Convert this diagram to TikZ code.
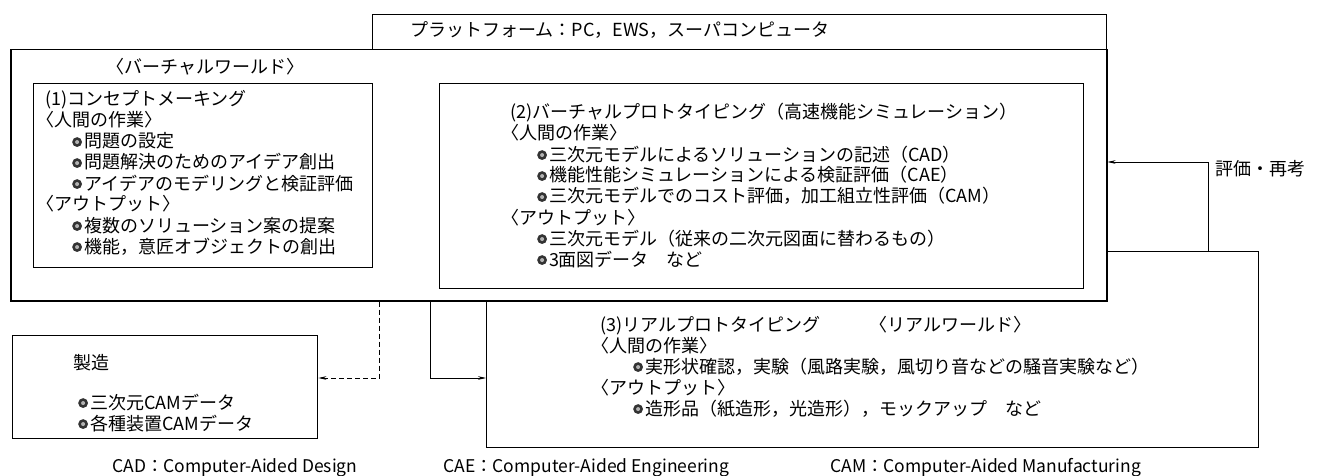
\documentclass[tikz,border=0pt]{standalone}
\usepackage{fontspec}
\setmainfont{Noto Sans CJK JP}
\usetikzlibrary{arrows.meta,calc}
\tikzset{
  frame/.style={draw, line width=1.2pt, fill=white, inner sep=0pt, anchor=north west},
  txt/.style={anchor=base west, inner sep=0pt, font=\fontsize{18}{21}\selectfont},
  foot/.style={anchor=base west, inner sep=0pt, font=\fontsize{17.5}{21}\selectfont},
  conn/.style={line width=0.7pt, -{Stealth[length=8pt,width=3.6pt]}},
}
\newcommand\bul{\tikz[baseline=-0.33em]{\fill[black!80](0,0) circle (4.9pt);\fill[black!30](0,0) circle (2pt);}\hspace{2pt}}
\newcommand\lb{\kern-0.5em 〈}
\newcommand\ind{\hspace*{27pt}}
\newcommand\indr{\hspace*{33pt}}
\begin{document}
\begin{tikzpicture}[x=1pt,y=-1pt]
\useasboundingbox (0,0) rectangle (1318,476);
\fill[white] (0,0) rectangle (1318,476);
% real world box (behind the virtual world box)
\node[frame, line width=1.4pt, minimum width=772pt, minimum height=196pt] (real) at (486,251) {};
% virtual world and platform
\node[frame, minimum width=734pt, minimum height=35pt] (plat) at (372,14) {};
\node[frame, line width=1.5pt, minimum width=1096pt, minimum height=251pt] (virt) at (10,49) {};
\node[txt] (platt) at (410,37) {プラットフォーム：PC，EWS，スーパコンピュータ};
\node[txt] (vwlabel) at (115,74) {\lb バーチャルワールド〉};
% box 1
\node[frame, minimum width=339pt, minimum height=184pt] (b1) at (33,83) {};
\foreach \t [count=\i from 0] in {
  {(1)コンセプトメーキング},
  {\lb 人間の作業〉},
  {\ind\bul 問題の設定},
  {\ind\bul 問題解決のためのアイデア創出},
  {\ind\bul アイデアのモデリングと検証評価},
  {\lb アウトプット〉},
  {\ind\bul 複数のソリューション案の提案},
  {\ind\bul 機能，意匠オブジェクトの創出}}
  \node[txt] (b1l\i) at (45,{106+21*\i}) {\t};
% box 2
\node[frame, minimum width=644pt, minimum height=205pt] (b2) at (439,83) {};
\foreach \t [count=\i from 0] in {
  {(2)バーチャルプロトタイピング（高速機能シミュレーション）},
  {\lb 人間の作業〉},
  {\ind\bul 三次元モデルによるソリューションの記述（CAD）},
  {\ind\bul 機能性能シミュレーションによる検証評価（CAE）},
  {\ind\bul 三次元モデルでのコスト評価，加工組立性評価（CAM）},
  {\lb アウトプット〉},
  {\ind\bul 三次元モデル（従来の二次元図面に替わるもの）},
  {\ind\bul 3面図データ　など}}
  \node[txt] (b2l\i) at (510,{119+21*\i}) {\t};
% box 3 texts
\foreach \t [count=\i from 0] in {
  {(3)リアルプロトタイピング},
  {\lb 人間の作業〉},
  {\indr\bul 実形状確認，実験（風路実験，風切り音などの騒音実験など）},
  {\lb アウトプット〉},
  {\indr\bul 造形品（紙造形，光造形），モックアップ　など}}
  \node[txt] (b3l\i) at (600,{331+21*\i}) {\t};
\node[txt] (rwlabel) at (878,331) {\lb リアルワールド〉};
% manufacturing box
\node[frame, line width=1.4pt, minimum width=305pt, minimum height=103pt] (seizo) at (12,335) {};
\node[txt] (sz0) at (73,369) {製造};
\node[txt] (sz1) at (78,409) {\bul 三次元CAMデータ};
\node[txt] (sz2) at (78,430) {\bul 各種装置CAMデータ};
% connectors
\coordinate (dx) at (379,378);
\coordinate (sx) at (430,378);
\coordinate (fx) at (1208,162);
\draw[conn, dash pattern=on 5pt off 3pt] (virt.south -| dx) |- (dx -| seizo.east);
\draw[conn] (virt.south -| sx) |- (sx -| real.west);
\draw[conn] (real.north -| fx) |- (fx -| virt.east);
\node[txt] (hyoka) at (1215,176) {評価・再考};
% footers
\node[foot] (fcad) at (112,472) {CAD：Computer-Aided Design};
\node[foot] (fcae) at (443,472) {CAE：Computer-Aided Engineering};
\node[foot] (fcam) at (830,472) {CAM：Computer-Aided Manufacturing};
\end{tikzpicture}
\end{document}
